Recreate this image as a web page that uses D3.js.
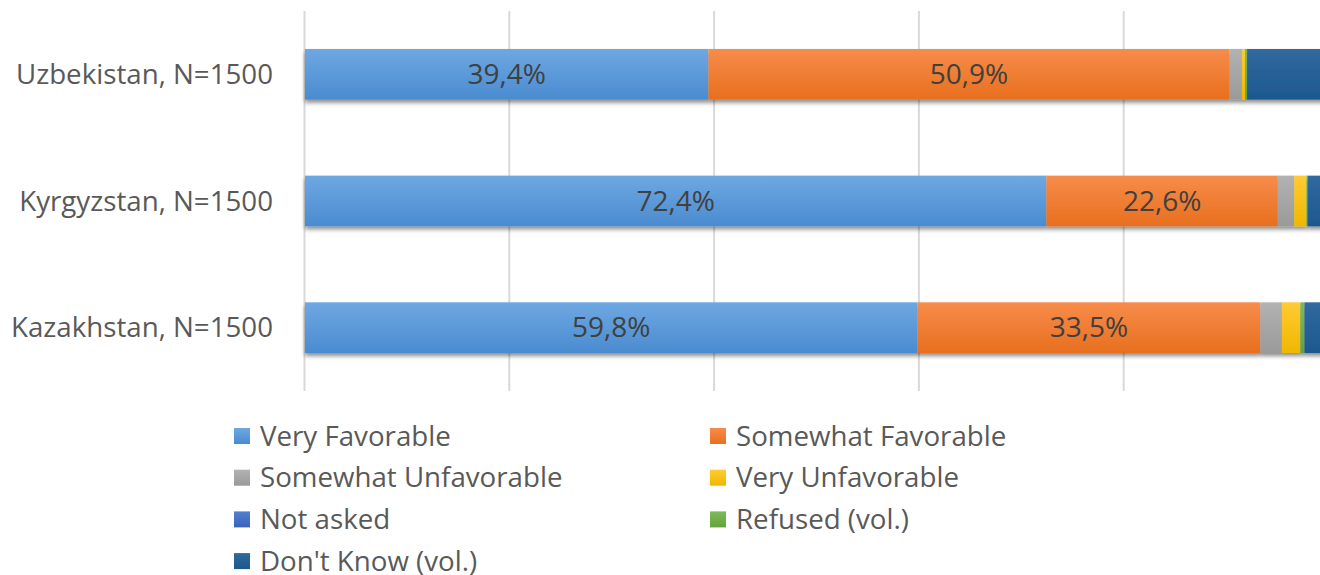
<!DOCTYPE html>
<html>
<head>
<meta charset="utf-8">
<script src="https://cdn.jsdelivr.net/npm/d3@7"></script>
<style>
  html, body { margin: 0; padding: 0; background: #fff; overflow: hidden; }
  svg { display: block; font-family: "Open Sans", "Noto Sans", sans-serif; }
</style>
</head>
<body>
<svg id="chart" width="1320" height="575"></svg>
<script>
// Survey: favourability, share of respondents (%)
const countries = ["Uzbekistan, N=1500", "Kyrgyzstan, N=1500", "Kazakhstan, N=1500"];
const seriesNames = ["Very Favorable", "Somewhat Favorable", "Somewhat Unfavorable",
                     "Very Unfavorable", "Not asked", "Refused (vol.)", "Don't Know (vol.)"];
const veryFavorable       = [39.4, 72.4, 59.8];
const somewhatFavorable   = [50.9, 22.6, 33.5];
const somewhatUnfavorable = [1.2, 1.6, 2.1];
const veryUnfavorable     = [0.3, 1.2, 1.8];
const notAsked            = [0.0, 0.0, 0.0];
const refused             = [0.2, 0.1, 0.4];
const dontKnow            = [8.0, 2.1, 2.4];
const xTicks = [0, 20, 40, 60, 80, 100];
const labelledSeries = ["Very Favorable", "Somewhat Favorable"];

const colors = {
  "Very Favorable":       ["#6ea8e2", "#4a8bd0"],
  "Somewhat Favorable":   ["#f78c4a", "#e86f1e"],
  "Somewhat Unfavorable": ["#b2b2b2", "#9a9a9a"],
  "Very Unfavorable":     ["#ffcb33", "#f0b700"],
  "Not asked":            ["#5080d4", "#3a63b6"],
  "Refused (vol.)":       ["#7dba5b", "#64a23d"],
  "Don't Know (vol.)":    ["#31699f", "#1c588d"]
};

const valuesBySeries = [veryFavorable, somewhatFavorable, somewhatUnfavorable,
                        veryUnfavorable, notAsked, refused, dontKnow];
const rows = countries.map((c, i) => {
  const r = { country: c };
  seriesNames.forEach((s, k) => { r[s] = valuesBySeries[k][i]; });
  return r;
});
const stacked = d3.stack().keys(seriesNames)(rows);

const svg = d3.select("#chart");
const defs = svg.append("defs");

seriesNames.forEach((s, k) => {
  const g = defs.append("linearGradient")
    .attr("id", "grad" + k).attr("x1", 0).attr("y1", 0).attr("x2", 0).attr("y2", 1);
  g.append("stop").attr("offset", "0%").attr("stop-color", colors[s][0]);
  g.append("stop").attr("offset", "100%").attr("stop-color", colors[s][1]);
});

const shadow = defs.append("filter").attr("id", "barShadow")
  .attr("x", "-5%").attr("y", "-20%").attr("width", "110%").attr("height", "150%");
shadow.append("feDropShadow").attr("dx", 0).attr("dy", 3).attr("stdDeviation", 2.2)
  .attr("flood-color", "#000").attr("flood-opacity", 0.45);

const x = d3.scaleLinear().domain([0, 100]).range([305, 1329]);
const y = d3.scaleBand().domain(countries).range([11, 391])
  .paddingInner(0.6).paddingOuter(0.3);

// vertical gridlines
svg.append("g").selectAll("line").data(xTicks).join("line")
  .attr("x1", d => x(d) - 0.5).attr("x2", d => x(d) - 0.5)
  .attr("y1", 11).attr("y2", 391)
  .attr("stroke", "#d9d9d9").attr("stroke-width", 2);

// stacked bars
const bars = svg.append("g").attr("filter", "url(#barShadow)");
bars.selectAll("g").data(stacked).join("g")
  .attr("fill", (d, k) => `url(#grad${k})`)
  .selectAll("rect").data(d => d).join("rect")
  .attr("x", d => x(d[0]))
  .attr("y", d => y(d.data.country))
  .attr("width", d => Math.max(0, x(d[1]) - x(d[0])))
  .attr("height", y.bandwidth());

// value labels
const fmt = v => v.toFixed(1).replace(".", ",") + "%";
const labels = svg.append("g")
  .attr("font-size", 28).attr("fill", "#404040").attr("text-anchor", "middle");
stacked.filter(s => labelledSeries.includes(s.key)).forEach(s => {
  labels.selectAll(null).data(s).join("text")
    .attr("x", d => (x(d[0]) + x(d[1])) / 2)
    .attr("y", d => y(d.data.country) + y.bandwidth() / 2)
    .attr("dy", "0.35em")
    .text(d => fmt(d[1] - d[0]));
});

// category axis labels
svg.append("g").attr("font-size", 27.7).attr("fill", "#595959").attr("text-anchor", "end")
  .selectAll("text").data(countries).join("text")
  .attr("x", 273)
  .attr("y", d => y(d) + y.bandwidth() / 2)
  .attr("dy", "0.35em")
  .text(d => d);

// legend: two columns
const legend = svg.append("g").attr("font-size", 27.7).attr("fill", "#595959");
const item = legend.selectAll("g").data(seriesNames).join("g")
  .attr("transform", (d, i) => `translate(${i % 2 === 0 ? 234 : 710}, ${436 + Math.floor(i / 2) * 41.7})`);
item.append("rect").attr("x", 0).attr("y", -8).attr("width", 16).attr("height", 16)
  .attr("fill", (d, k) => `url(#grad${k})`);
item.append("text").attr("x", 26).attr("dy", "0.35em").text(d => d);
</script>
</body>
</html>
